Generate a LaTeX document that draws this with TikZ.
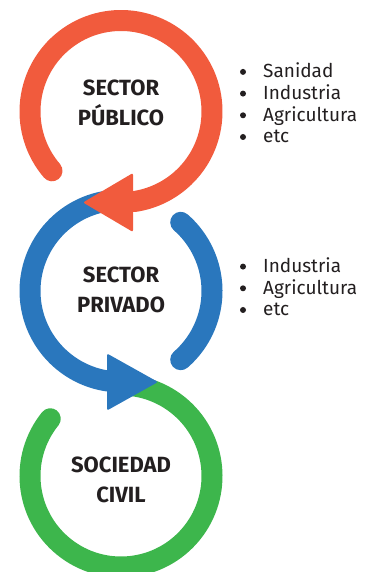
\documentclass[tikz,border=0pt]{standalone}
\usepackage{fontspec}
\setmainfont{Fira Sans}
\usetikzlibrary{calc}
\definecolor{rojo}{HTML}{F15B3D}
\definecolor{azul}{HTML}{2A77BD}
\definecolor{verde}{HTML}{3DB64C}
\definecolor{texto}{HTML}{231F20}

\begin{document}
\begin{tikzpicture}[x=1pt, y=1pt,
		anillo/.style={line width=21pt, line cap=round},
		punta/.style={rounded corners=2pt},
		sector/.style={font=\bfseries\fontsize{22}{30}\selectfont, text=texto, align=center},
		lista/.style={font=\fontsize{19}{21.7}\selectfont, text=texto, align=left, anchor=base west, inner sep=0pt}]
	\useasboundingbox (0,0) rectangle (379,572);
	\coordinate (c1) at (121,460.5);
	\coordinate (c2) at (121,281);
	\coordinate (c3) at (121,96);
	\draw[verde, anillo] (c3) ++(141:91) arc[start angle=141, end angle=445, radius=91];
	\draw[azul, anillo] (c2) ++(49:91) arc[start angle=49, end angle=-49, radius=91];
	\draw[azul, anillo] (c2) ++(95:91) arc[start angle=95, end angle=262, radius=91];
	\fill[azul, punta] ($(c2)+(-14,-62.5)$) -- ($(c2)+(37,-91)$) -- ($(c2)+(-14,-119.5)$) -- cycle;
	\draw[rojo, anillo] (c1) ++(220.7:91) arc[start angle=220.7, end angle=-82, radius=91];
	\fill[rojo, punta] ($(c1)+(12,-61.5)$) -- ($(c1)+(-38,-91)$) -- ($(c1)+(12,-120.5)$) -- cycle;
	\node[sector] (pub) at ($(c1)+(0,8.5)$) {SECTOR\\PÚBLICO};
	\node[sector] (priv) at ($(c2)+(0,1)$) {SECTOR\\PRIVADO};
	\node[sector] (civ) at ($(c3)+(0,-4)$) {SOCIEDAD\\CIVIL};
	\node[lista] (lista1) at (263,429) {Sanidad\\Industria\\Agricultura\\etc};
	\node[lista] (lista2) at (263,256) {Industria\\Agricultura\\etc};
	\foreach \k in {0,...,3}
		\fill[texto] ($(lista1.base west)+(-20,6+21.7*\k)$) circle (3pt);
	\foreach \k in {0,...,2}
		\fill[texto] ($(lista2.base west)+(-20,6+21.7*\k)$) circle (3pt);
\end{tikzpicture}
\end{document}
